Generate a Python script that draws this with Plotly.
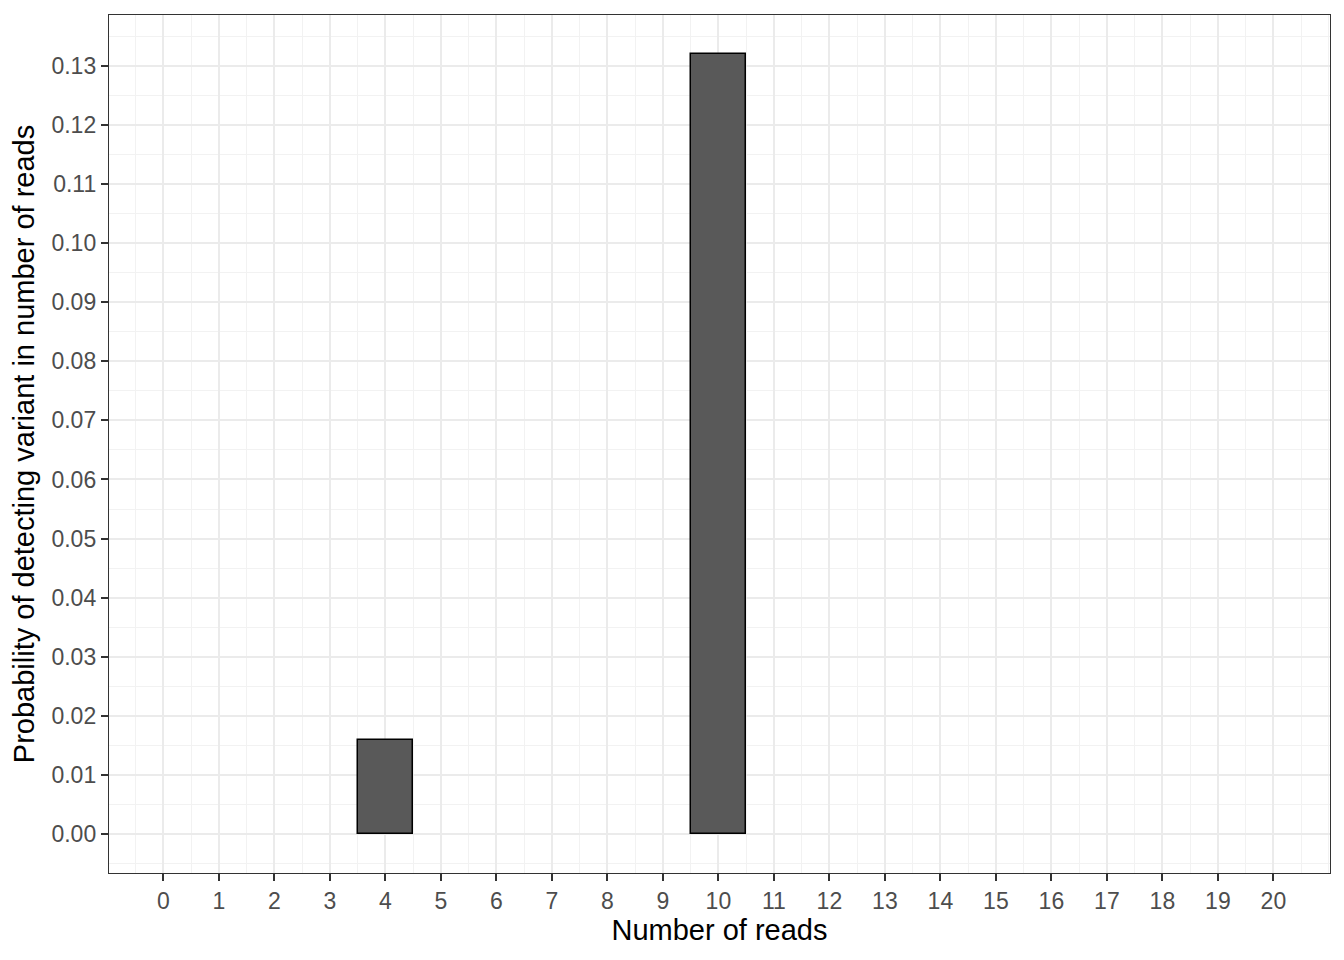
import plotly.graph_objects as go

reads = [4, 10]
probability = [0.0159, 0.132]
x_ticks = list(range(0, 21))
y_ticks = [i / 100 for i in range(0, 14)]

fig = go.Figure()
fig.add_trace(go.Bar(
    x=reads, y=probability, width=1,
    marker=dict(color="#595959", line=dict(color="black", width=1.5)),
    showlegend=False,
))

font_family = "Liberation Sans, Arial, sans-serif"
axis_common = dict(
    showline=True, mirror=True, linecolor="#333333", linewidth=1.4,
    ticks="outside", ticklen=7, tickwidth=1.6, tickcolor="#333333",
    tickfont=dict(family=font_family, size=23, color="#4D4D4D"),
    showgrid=True, gridcolor="#EBEBEB", gridwidth=1.8,
    zeroline=False,
)

fig.update_layout(
    width=1336, height=952,
    paper_bgcolor="white", plot_bgcolor="white",
    margin=dict(l=101, r=14, t=7, b=87),
    font=dict(family=font_family),
    bargap=0,
    xaxis=dict(
        **axis_common,
        range=[-0.98, 21.02],
        tickmode="array", tickvals=x_ticks, ticktext=[str(v) for v in x_ticks],
        minor=dict(dtick=0.5, tick0=0.5, showgrid=True, gridcolor="#F2F2F2", gridwidth=0.9, ticks=""),
        title=dict(text="Number of reads", font=dict(family=font_family, size=29, color="black"), standoff=4),
    ),
    yaxis=dict(
        **axis_common,
        range=[-0.0066, 0.1386],
        tickmode="array", tickvals=y_ticks, ticktext=[f"{v:.2f}" for v in y_ticks],
        minor=dict(dtick=0.005, tick0=0.005, showgrid=True, gridcolor="#F2F2F2", gridwidth=0.9, ticks=""),
        title=dict(text="Probability of detecting variant in number of reads",
                   font=dict(family=font_family, size=29, color="black"), standoff=8),
    ),
)

fig.write_html("out.html")
